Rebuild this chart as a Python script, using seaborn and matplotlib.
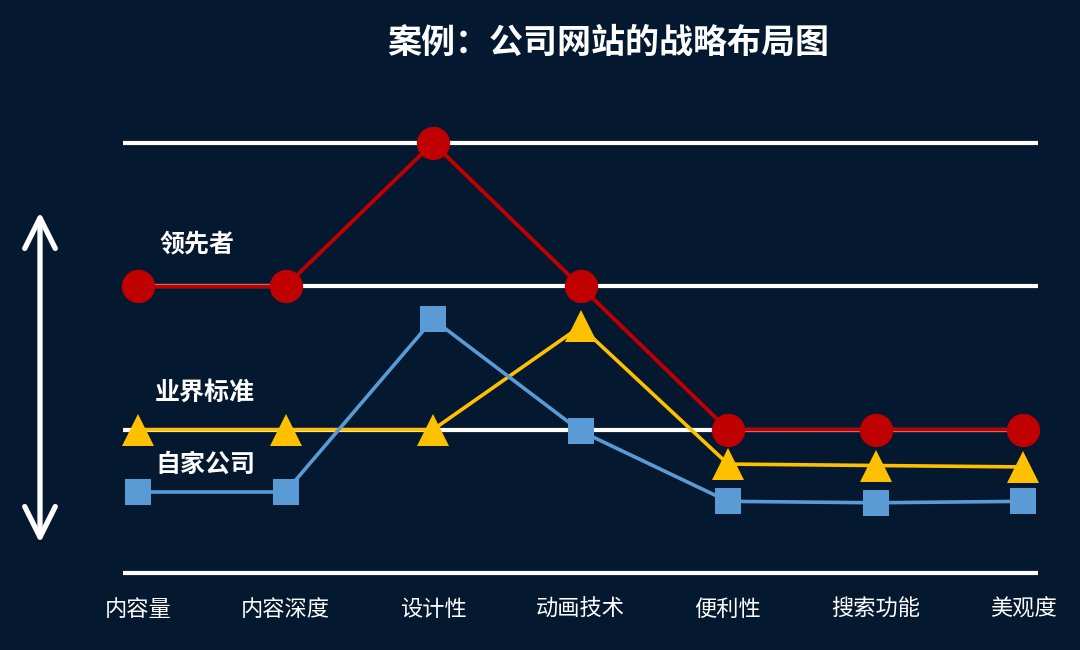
import numpy as np
import pandas as pd
import matplotlib
matplotlib.use("Agg")
import matplotlib.pyplot as plt
from matplotlib.patches import FancyArrowPatch
import seaborn as sns

# ---- data ----
categories = ["内容量", "内容深度", "设计性", "动画技术", "便利性", "搜索功能", "美观度"]
leader = [2.0, 2.0, 3.0, 2.0, 1.0, 1.0, 1.0]
industry = [1.0, 1.0, 1.0, 1.72, 0.76, 0.75, 0.74]
company = [0.565, 0.565, 1.77, 0.99, 0.50, 0.49, 0.50]
levels = [0, 1, 2, 3]
series_names = ["领先者", "业界标准", "自家公司"]

BG = "#041830"
RED = "#C00000"
YEL = "#FFC000"
BLUE = "#5B9BD5"

sns.set_style("dark")
plt.rcParams["font.family"] = ["Noto Sans CJK SC", "DejaVu Sans"]

fig = plt.figure(figsize=(10.8, 6.5), dpi=100, facecolor=BG)
ax = fig.add_axes([0, 65 / 650, 1, 485 / 650])
ax.set_facecolor(BG)

x = np.arange(len(categories))
df = pd.DataFrame({"x": x, "leader": leader, "industry": industry, "company": company})

# white reference lines
ax.hlines(levels, -0.1, 6.1, colors="white", lw=3, zorder=1)

sns.lineplot(data=df, x="x", y="company", ax=ax, color=BLUE, lw=2.6,
             marker="s", markersize=19, markeredgewidth=0, zorder=3)
sns.lineplot(data=df, x="x", y="industry", ax=ax, color=YEL, lw=2.6,
             marker="^", markersize=23.5, markeredgewidth=0, zorder=2)
sns.lineplot(data=df, x="x", y="leader", ax=ax, color=RED, lw=2.8,
             marker="o", markersize=24, markeredgewidth=0, zorder=4)

ax.set_xlim(-138 / 147.5, 6 + 57 / 147.5)
ax.set_ylim(-12 / 143.33, 3 + 43 / 143.33)
ax.set_xticks(x)
ax.set_xticklabels(categories, color="white", fontsize=16, fontweight="medium")
ax.set_yticks([])
ax.tick_params(axis="x", length=0, pad=9)
ax.set_xlabel("")
ax.set_ylabel("")
ax.grid(False)
for s in ax.spines.values():
    s.set_visible(False)

# series labels
ax.text(0.40, 2.29, series_names[0], color="white", fontsize=18, fontweight="bold",
        ha="center", va="center")
ax.text(0.455, 1.256, series_names[1], color="white", fontsize=18, fontweight="bold",
        ha="center", va="center")
ax.text(0.455, 0.753, series_names[2], color="white", fontsize=18, fontweight="bold",
        ha="center", va="center")

# title
fig.text(608 / 1080, 1 - 42 / 650, "案例：公司网站的战略布局图", color="white",
         fontsize=24.5, fontweight="bold", ha="center", va="center")

# double-headed arrow
arr = FancyArrowPatch((40 / 1080, 1 - 212 / 650), (40 / 1080, 1 - 543 / 650),
                      transform=fig.transFigure,
                      arrowstyle="<->,head_length=1.1,head_width=0.55",
                      mutation_scale=20, color="white", lw=3.8,
                      shrinkA=0, shrinkB=0,
                      capstyle="round", joinstyle="round")
fig.add_artist(arr)

fig.savefig("out.png", dpi=100, facecolor=BG)
